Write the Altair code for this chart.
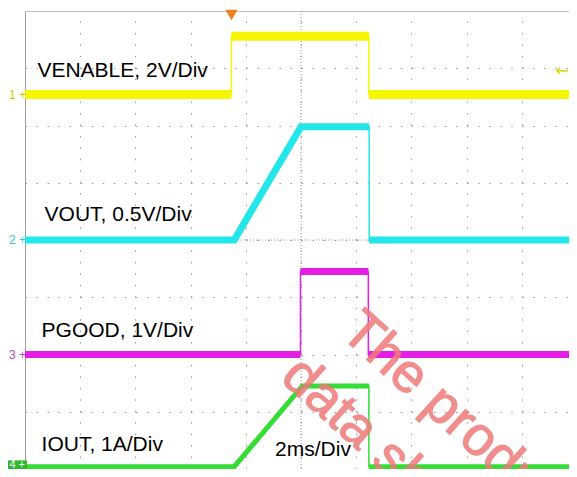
import altair as alt
import pandas as pd

# ---- scope frame: time in ms (2 ms/div, 10 div), vertical in divisions (8 div)
screen_time = [-10, 10]
div_domain = [-4, 4]
x_grid_values = [-10, -8, -6, -4, -2, 0, 2, 4, 6, 8]
y_grid_values = [-4, -3, -2, -1, 0, 1, 2, 3, 4]

# ---- channels
channel_names = ["VENABLE", "VOUT", "PGOOD", "IOUT"]
channel_ids = ["1", "2", "3", "4"]
channel_scale = [2.0, 0.5, 1.0, 1.0]          # units per division
channel_offset = [2.54, 0.0, -2.0, -3.96]     # ground marker, divisions
channel_colors = ["#F6F600", "#22E6EA", "#E41EE4", "#33DD33"]
marker_colors = ["#C9C900", "#3CC4CC", "#B450B4", "#FFFFFF"]
channel_widths = [9, 7, 7, 5]

# ---- traces (time ms, physical value)
venable_t = [-10, -2.52, -2.52, 2.46, 2.46, 10]
venable_v = [0, 0, 2.04, 2.04, 0, 0]
vout_t = [-10, -2.42, 0.0, 2.47, 2.47, 10]
vout_v = [0, 0, 0.99, 0.99, 0, 0]
pgood_t = [-10, -0.02, -0.02, 2.44, 2.44, 10]
pgood_v = [0, 0, 1.45, 1.45, 0, 0]
iout_t = [-10, -2.42, 0.05, 2.46, 2.46, 10]
iout_v = [0, 0, 1.41, 1.41, 0, 0]

# ---- annotations
label_text = ["VENABLE, 2V/Div", "VOUT, 0.5V/Div", "PGOOD, 1V/Div", "IOUT, 1A/Div", "2ms/Div"]
label_t = [-9.55, -9.29, -9.40, -9.40, -0.94]
label_div = [2.84, 0.34, -1.70, -3.68, -3.77]

watermark_text = ["The product", "data sheet"]
watermark_t = [1.37, -0.80]
watermark_div = [-1.65, -2.44]

trigger_time = [-2.52]
trigger_level_div = [2.96]

# ---------------------------------------------------------------
full_w = 552           # full 10-division screen width in px
plot_w = 544           # part of it that fits in the window
plot_h = 458
visible_max = screen_time[0] + (screen_time[1] - screen_time[0]) * plot_w / full_w

xs = alt.Scale(domain=[screen_time[0], visible_max], nice=False, zero=False)
ys = alt.Scale(domain=div_domain, nice=False, zero=False)
xaxis = alt.Axis(values=x_grid_values, orient="top", grid=True,
                 gridDash=[1.5, 9.95], gridColor="#9A9A9A", gridWidth=1,
                 labels=False, ticks=False, domain=True, domainColor="#C4C4B4",
                 title=None)
yaxis = alt.Axis(values=y_grid_values, grid=True, gridDash=[1.5, 9.54],
                 gridColor="#9A9A9A", gridWidth=1, labels=False, ticks=False,
                 domain=True, domainColor="#9C9C9C", title=None)
X = alt.X("t:Q", scale=xs, axis=xaxis)
Y = alt.Y("d:Q", scale=ys, axis=yaxis)

traces = {
    "VENABLE": (venable_t, venable_v),
    "VOUT": (vout_t, vout_v),
    "PGOOD": (pgood_t, pgood_v),
    "IOUT": (iout_t, iout_v),
}

layers = []

# center cross
center = pd.DataFrame({"t": [0.0], "d": [0.0]})
layers.append(alt.Chart(center).mark_rule(color="#9A9A9A", strokeDash=[1, 2]).encode(x=X))
layers.append(alt.Chart(center).mark_rule(color="#9A9A9A", strokeDash=[1, 2]).encode(y=Y))

for i, name in enumerate(channel_names):
    ts, vs = traces[name]
    rows = []
    seg = 0
    for k, (t, v) in enumerate(zip(ts, vs)):
        if k > 0 and t == ts[k - 1]:
            seg += 1
        rows.append({"t": t, "d": channel_offset[i] + v / channel_scale[i],
                     "seg": seg, "order": k})
    df = pd.DataFrame(rows)
    layers.append(alt.Chart(df).mark_line(color=channel_colors[i], strokeWidth=1.5)
                  .encode(x=X, y=Y, order="order:Q"))
    layers.append(alt.Chart(df).mark_line(color=channel_colors[i],
                                          strokeWidth=channel_widths[i])
                  .encode(x=X, y=Y, detail="seg:N", order="order:Q"))

# labels
lab = pd.DataFrame({"t": label_t, "d": label_div, "txt": label_text})
layers.append(alt.Chart(lab).mark_text(align="left", baseline="alphabetic",
                                       font="Liberation Sans", fontSize=21,
                                       color="black")
              .encode(x=X, y=Y, text="txt:N"))

# channel 4 marker box
box = pd.DataFrame({"t": [screen_time[0]], "t2": [screen_time[0]],
                    "d": [channel_offset[3] + 0.11], "d2": [channel_offset[3] - 0.06]})
layers.append(alt.Chart(box).mark_rect(color="#2DB82D", xOffset=-17, x2Offset=2)
              .encode(x=X, x2="t2:Q", y=Y, y2="d2:Q"))

# channel markers 1-3
mk = pd.DataFrame({"t": [screen_time[0]] * 3, "d": channel_offset[:3],
                   "txt": [c + " +" for c in channel_ids[:3]], "id": channel_ids[:3]})
layers.append(alt.Chart(mk).mark_text(align="right", baseline="middle",
                                      font="Liberation Sans", fontSize=12, dx=1)
              .encode(x=X, y=Y, text="txt:N",
                      color=alt.Color("id:N", scale=alt.Scale(domain=channel_ids,
                                                              range=marker_colors),
                                      legend=None)))
# channel marker 4 (inside the green box)
mk4 = pd.DataFrame({"t": [screen_time[0]], "d": [channel_offset[3]],
                    "txt": [channel_ids[3] + " +"]})
layers.append(alt.Chart(mk4).mark_text(align="right", baseline="bottom",
                                       font="Liberation Sans", fontSize=11,
                                       dx=0, dy=3, color=marker_colors[3])
              .encode(x=X, y=Y, text="txt:N"))

# trigger position and level
trig = pd.DataFrame({"t": trigger_time, "d": [div_domain[1]]})
layers.append(alt.Chart(trig).mark_point(shape="triangle-down", filled=True,
                                         color="#F0821E", size=150, opacity=1,
                                         yOffset=4)
              .encode(x=X, y=Y))
lvl = pd.DataFrame({"t": [visible_max], "d": trigger_level_div, "txt": ["\u2190"]})
layers.append(alt.Chart(lvl).mark_text(align="right", baseline="middle",
                                       font="DejaVu Sans", fontSize=16,
                                       color="#D6D600")
              .encode(x=X, y=Y, text="txt:N"))

# watermark
wm = pd.DataFrame({"t": watermark_t, "d": watermark_div, "txt": watermark_text})
layers.append(alt.Chart(wm).mark_text(align="left", baseline="alphabetic",
                                      font="Liberation Sans", fontSize=55,
                                      angle=42, color="#EE7A7A", opacity=0.85,
                                      stroke="#EE7A7A", strokeWidth=1.2,
                                      clip=True)
              .encode(x=X, y=Y, text="txt:N"))

chart = alt.layer(*layers).properties(
    width=plot_w, height=plot_h,
    padding={"left": 17, "top": 3, "right": 0, "bottom": 0},
    autosize=alt.AutoSizeParams(type="none"),
    background="white",
).configure_view(stroke=None)

chart.save("out.html", embed_options={"renderer": "svg", "actions": False})
